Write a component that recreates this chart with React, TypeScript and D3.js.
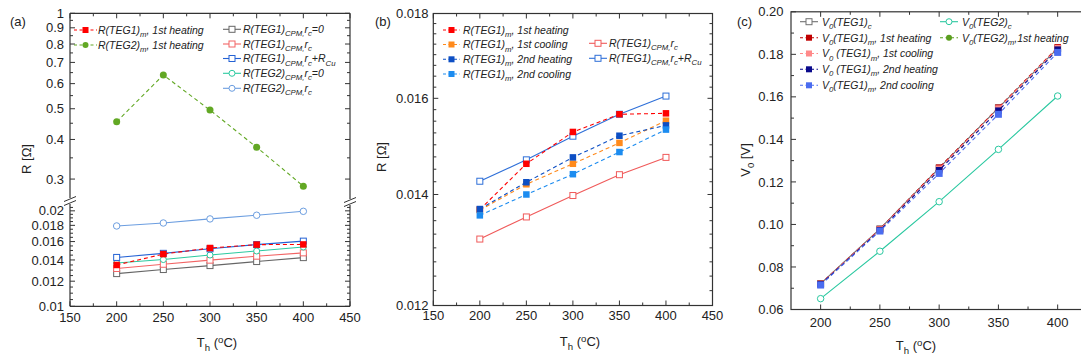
import React from "react";
import * as d3 from "d3";

// ---------- DATA ----------
const temps = [200, 250, 300, 350, 400];
const xTicksAB = [150, 200, 250, 300, 350, 400, 450];
const xTicksC = [200, 250, 300, 350, 400];

// panel (a)
const aTeg1mHeat1 = [0.0135, 0.01461, 0.01527, 0.01565, 0.01567];
const aTeg2mHeat1 = [0.455, 0.639, 0.495, 0.378, 0.285];
const aTeg1CpmRc0 = [0.01268, 0.01306, 0.01344, 0.01384, 0.01424];
const aTeg1CpmRc = [0.01316, 0.01357, 0.01398, 0.01439, 0.01474];
const aTeg1CpmRcCu = [0.01426, 0.01469, 0.01518, 0.01565, 0.01605];
const aTeg2CpmRc0 = [0.0137, 0.01404, 0.01451, 0.01494, 0.01538];
const aTeg2CpmRc = [0.01792, 0.01831, 0.01886, 0.01937, 0.01993];
const aUpperTicks = [0.3, 0.4, 0.5, 0.6, 0.7, 0.8, 0.9, 1];
const aUpperLabels = ["0.3", "0.4", "0.5", "0.6", "0.7", "0.8", "0.9", "1"];
const aLowerTicks = [0.01, 0.012, 0.014, 0.016, 0.018, 0.02];
const aLowerLabels = ["0.01", "0.012", "0.014", "0.016", "0.018", "0.02"];

// panel (b)
const bTeg1mHeat1 = [0.01371, 0.01461, 0.01527, 0.01565, 0.01567];
const bTeg1mCool1 = [0.0137, 0.0142, 0.01461, 0.01504, 0.01551];
const bTeg1mHeat2 = [0.01372, 0.01424, 0.01474, 0.01519, 0.01541];
const bTeg1mCool2 = [0.0136, 0.014, 0.0144, 0.01485, 0.01532];
const bTeg1CpmRc = [0.01316, 0.01357, 0.01398, 0.01439, 0.01474];
const bTeg1CpmRcCu = [0.01426, 0.01469, 0.01518, 0.01565, 0.01605];
const bTicks = [0.012, 0.014, 0.016, 0.018];
const bLabels = ["0.012", "0.014", "0.016", "0.018"];

// panel (c)
const cTeg1c = [0.0722, 0.0979, 0.1265, 0.1548, 0.1828];
const cTeg1mHeat1 = [0.0721, 0.0978, 0.1267, 0.1549, 0.1833];
const cTeg1mCool1 = [0.072, 0.0976, 0.1262, 0.1545, 0.1829];
const cTeg1mHeat2 = [0.0718, 0.0972, 0.1255, 0.1535, 0.1822];
const cTeg1mCool2 = [0.0715, 0.0969, 0.124, 0.1518, 0.1809];
const cTeg2c = [0.0651, 0.0874, 0.1107, 0.1353, 0.1604];
const cTeg2mHeat1: number[] = [];
const cTicks = [0.06, 0.08, 0.1, 0.12, 0.14, 0.16, 0.18, 0.2];
const cLabels = ["0.06", "0.08", "0.10", "0.12", "0.14", "0.16", "0.18", "0.20"];

// ---------- HELPERS ----------
const FONT = "'Liberation Sans', Arial, sans-serif";
const AX = "#333";

type Seg = [string, number];

function Rich({ x, y, segs, size, italic, anchor, rotate }: any) {
  let level = 0;
  const off = size * 0.32;
  const parts = segs.map((s: Seg, i: number) => {
    const [t, lv] = s;
    const dy = (lv - level) * off;
    level = lv;
    const fs = lv === 0 ? size : size * 0.74;
    return (
      <tspan key={i} dy={dy} fontSize={fs}>
        {t}
      </tspan>
    );
  });
  return (
    <text
      x={x}
      y={y}
      fontFamily={FONT}
      fontSize={size}
      fontStyle={italic ? "italic" : "normal"}
      textAnchor={anchor || "start"}
      fill="#222"
      transform={rotate ? `rotate(${rotate},${x},${y})` : undefined}
    >
      {parts}
    </text>
  );
}

function Marker({ cx, cy, shape, color, filled, size }: any) {
  const s = size || 6;
  if (shape === "square")
    return (
      <rect
        x={cx - s / 2}
        y={cy - s / 2}
        width={s}
        height={s}
        fill={filled ? color : "#fff"}
        stroke={color}
        strokeWidth={filled ? 0 : 1}
      />
    );
  return (
    <circle
      cx={cx}
      cy={cy}
      r={s / 2}
      fill={filled ? color : "#fff"}
      stroke={color}
      strokeWidth={filled ? 0 : 1}
    />
  );
}

function Series({ xs, ys, x, y, color, dash, shape, filled, size }: any) {
  const pts = xs.map((v: number, i: number) => [x(v), y(ys[i])]).filter((_: any, i: number) => ys[i] !== undefined);
  const line = d3.line();
  return (
    <g>
      {pts.length > 1 && (
        <path d={line(pts as any) || ""} fill="none" stroke={color} strokeWidth={1.1} strokeDasharray={dash ? "4,3" : undefined} />
      )}
      {pts.map((p: number[], i: number) => (
        <Marker key={i} cx={p[0]} cy={p[1]} shape={shape} color={color} filled={filled} size={size} />
      ))}
    </g>
  );
}

function LegendItem({ x0, x1, y, color, dash, shape, filled, segs, tx, size }: any) {
  return (
    <g>
      <line x1={x0} x2={x1} y1={y} y2={y} stroke={color} strokeWidth={1.1} strokeDasharray={dash ? "3,2.5" : undefined} />
      <Marker cx={(x0 + x1) / 2} cy={y} shape={shape} color={color} filled={filled} size={size || 6} />
      <Rich x={tx} y={y + 3.8} segs={segs} size={10.5} italic />
    </g>
  );
}

function XAxisBox({ x, ticks, minor, top, bottom, labelY, labels }: any) {
  return (
    <g>
      {ticks.map((t: number, i: number) => (
        <g key={"M" + i}>
          <line x1={x(t)} x2={x(t)} y1={bottom} y2={bottom - 5} stroke={AX} strokeWidth={1} />
          <line x1={x(t)} x2={x(t)} y1={top} y2={top + 5} stroke={AX} strokeWidth={1} />
          <text x={x(t)} y={labelY} fontFamily={FONT} fontSize={13} textAnchor="middle" fill="#222">
            {labels ? labels[i] : t}
          </text>
        </g>
      ))}
      {minor.map((t: number, i: number) => (
        <g key={"m" + i}>
          <line x1={x(t)} x2={x(t)} y1={bottom} y2={bottom - 3} stroke={AX} strokeWidth={1} />
          <line x1={x(t)} x2={x(t)} y1={top} y2={top + 3} stroke={AX} strokeWidth={1} />
        </g>
      ))}
    </g>
  );
}

function YTicks({ y, ticks, labels, minor, left, right, labelX }: any) {
  return (
    <g>
      {ticks.map((t: number, i: number) => (
        <g key={"M" + i}>
          <line x1={left} x2={left + 5} y1={y(t)} y2={y(t)} stroke={AX} strokeWidth={1} />
          <line x1={right} x2={right - 5} y1={y(t)} y2={y(t)} stroke={AX} strokeWidth={1} />
          <text x={labelX} y={y(t) + 4.6} fontFamily={FONT} fontSize={13} textAnchor="end" fill="#222">
            {labels[i]}
          </text>
        </g>
      ))}
      {minor.map((t: number, i: number) => (
        <g key={"m" + i}>
          <line x1={left} x2={left + 3} y1={y(t)} y2={y(t)} stroke={AX} strokeWidth={1} />
          <line x1={right} x2={right - 3} y1={y(t)} y2={y(t)} stroke={AX} strokeWidth={1} />
        </g>
      ))}
    </g>
  );
}

const near = (a: number[], v: number) => a.some((t) => Math.abs(t - v) < 1e-9);
const thLabel: Seg[] = [["T", 0], ["h", 1], [" (", 0], ["o", -1], ["C)", 0]];

// ---------- PANEL A ----------
function PanelA() {
  const L = 70, R = 350, T = 13.3, B = 306.3;
  const x = d3.scaleLinear().domain([150, 450]).range([L, R]);
  const upTop = 13.3, upBot = 196;
  const yUp = d3.scaleLog().domain([0.2653, 1]).range([upBot, upTop]);
  const loTop = 206.1;
  const yLo = d3.scaleLog().domain([0.01, 0.0207]).range([B, loTop]);
  const xMinor = d3.range(175, 450, 50);
  const upMinor = d3.range(0.3, 1.0001, 0.05).filter((v) => !near(aUpperTicks, +v.toFixed(4)));
  const loMinor = d3.range(0.0105, 0.0206, 0.0005).filter((v) => !near(aLowerTicks, +v.toFixed(5)));
  const low = (arr: number[], color: string, shape: string, filled: boolean, dash = false, size = 6) => (
    <Series xs={temps} ys={arr} x={x} y={yLo} color={color} shape={shape} filled={filled} dash={dash} size={size} />
  );
  const brk = (bx: number, by: number) => (
    <g>
      <rect x={bx - 3} y={by - 3} width={6} height={6} fill="#fff" />
      <line x1={bx - 6} y1={by + 0.5} x2={bx + 6} y2={by - 4.5} stroke={AX} strokeWidth={1} />
      <line x1={bx - 6} y1={by + 4.5} x2={bx + 6} y2={by - 0.5} stroke={AX} strokeWidth={1} />
    </g>
  );
  return (
    <g>
      <text x={10} y={26} fontFamily={FONT} fontSize={13} fill="#222">(a)</text>
      {/* series */}
      {low(aTeg1CpmRc0, "#666666", "square", false)}
      {low(aTeg1CpmRc, "#f26464", "square", false)}
      {low(aTeg2CpmRc0, "#2ccaa0", "circle", false)}
      {low(aTeg1CpmRcCu, "#2462d4", "square", false)}
      {low(aTeg2CpmRc, "#6c9ee0", "circle", false, false, 6.5)}
      {low(aTeg1mHeat1, "#ff0000", "square", true, true, 6.5)}
      <Series xs={temps} ys={aTeg2mHeat1} x={x} y={yUp} color="#62a824" shape="circle" filled dash size={7} />
      {/* frame */}
      <line x1={L} x2={R} y1={T} y2={T} stroke={AX} strokeWidth={1.2} />
      <line x1={L} x2={R} y1={B} y2={B} stroke={AX} strokeWidth={1.2} />
      <line x1={L} x2={L} y1={T} y2={B} stroke={AX} strokeWidth={1.2} />
      <line x1={R} x2={R} y1={T} y2={B} stroke={AX} strokeWidth={1.2} />
      <XAxisBox x={x} ticks={xTicksAB} minor={xMinor} top={T} bottom={B} labelY={322} />
      <YTicks y={yUp} ticks={aUpperTicks} labels={aUpperLabels} minor={upMinor} left={L} right={R} labelX={64} />
      <YTicks y={yLo} ticks={aLowerTicks} labels={aLowerLabels} minor={loMinor} left={L} right={R} labelX={64} />
      {brk(L, 201)}
      {brk(R, 202)}
      {/* legend */}
      <LegendItem x0={74} x1={97} y={30} color="#ff0000" dash shape="square" filled tx={98}
        segs={[["R(TEG1)", 0], ["m", 1], [", 1st heating", 0]]} />
      <LegendItem x0={74} x1={97} y={45} color="#62a824" dash shape="circle" filled tx={98}
        segs={[["R(TEG2)", 0], ["m", 1], [", 1st heating", 0]]} />
      <LegendItem x0={223} x1={241} y={29.3} color="#666666" shape="square" tx={243}
        segs={[["R(TEG1)", 0], ["CPM,", 1], ["r", 0], ["c", 1], ["=0", 0]]} />
      <LegendItem x0={223} x1={241} y={44} color="#f26464" shape="square" tx={243}
        segs={[["R(TEG1)", 0], ["CPM,", 1], ["r", 0], ["c", 1]]} />
      <LegendItem x0={223} x1={241} y={58.5} color="#2462d4" shape="square" tx={243}
        segs={[["R(TEG1)", 0], ["CPM,", 1], ["r", 0], ["c", 1], ["+R", 0], ["Cu", 1]]} />
      <LegendItem x0={223} x1={241} y={73.3} color="#2ccaa0" shape="circle" tx={243}
        segs={[["R(TEG2)", 0], ["CPM,", 1], ["r", 0], ["c", 1], ["=0", 0]]} />
      <LegendItem x0={223} x1={241} y={88.3} color="#6c9ee0" shape="circle" tx={243}
        segs={[["R(TEG2)", 0], ["CPM,", 1], ["r", 0], ["c", 1]]} />
      {/* axis titles */}
      <Rich x={31} y={159} segs={[["R [Ω]", 0]]} size={13} anchor="middle" rotate={-90} />
      <Rich x={217} y={347} segs={thLabel} size={13} anchor="middle" />
    </g>
  );
}

// ---------- PANEL B ----------
function PanelB() {
  const L = 433.3, R = 712.5, T = 13.5, B = 305.5;
  const x = d3.scaleLinear().domain([150, 450]).range([L, R]);
  const y = d3.scaleLog().domain([0.012, 0.018]).range([B, T]);
  const xMinor = d3.range(175, 450, 50);
  const yMinor = d3.range(0.01225, 0.018, 0.00025).filter((v) => !near(bTicks, +v.toFixed(5)));
  const s = (arr: number[], color: string, filled: boolean, dash: boolean) => (
    <Series xs={temps} ys={arr} x={x} y={y} color={color} shape="square" filled={filled} dash={dash} size={filled ? 6.5 : 6} />
  );
  return (
    <g>
      <text x={375} y={26} fontFamily={FONT} fontSize={13} fill="#222">(b)</text>
      {s(bTeg1CpmRc, "#f05a5a", false, false)}
      {s(bTeg1CpmRcCu, "#2e6fd8", false, false)}
      {s(bTeg1mHeat1, "#ff0000", true, true)}
      {s(bTeg1mCool1, "#ff8a1c", true, true)}
      {s(bTeg1mHeat2, "#0d4fc4", true, true)}
      {s(bTeg1mCool2, "#1c8cf0", true, true)}
      <rect x={L} y={T} width={R - L} height={B - T} fill="none" stroke={AX} strokeWidth={1.2} />
      <XAxisBox x={x} ticks={xTicksAB} minor={xMinor} top={T} bottom={B} labelY={320} />
      <YTicks y={y} ticks={bTicks} labels={bLabels} minor={yMinor} left={L} right={R} labelX={428.5} />
      <LegendItem x0={443} x1={460} y={30} color="#ff0000" dash shape="square" filled tx={463}
        segs={[["R(TEG1)", 0], ["m", 1], [", 1st heating", 0]]} />
      <LegendItem x0={443} x1={460} y={44.5} color="#ff8a1c" dash shape="square" filled tx={463}
        segs={[["R(TEG1)", 0], ["m", 1], [", 1st cooling", 0]]} />
      <LegendItem x0={443} x1={460} y={59.3} color="#0d4fc4" dash shape="square" filled tx={463}
        segs={[["R(TEG1)", 0], ["m", 1], [", 2nd heating", 0]]} />
      <LegendItem x0={443} x1={460} y={74} color="#1c8cf0" dash shape="square" filled tx={463}
        segs={[["R(TEG1)", 0], ["m", 1], [", 2nd cooling", 0]]} />
      <LegendItem x0={589} x1={607} y={43.3} color="#f05a5a" shape="square" tx={609}
        segs={[["R(TEG1)", 0], ["CPM,", 1], ["r", 0], ["c", 1]]} />
      <LegendItem x0={589} x1={607} y={58.3} color="#2e6fd8" shape="square" tx={609}
        segs={[["R(TEG1)", 0], ["CPM,", 1], ["r", 0], ["c", 1], ["+R", 0], ["Cu", 1]]} />
      <Rich x={386} y={157} segs={[["R [Ω]", 0]]} size={13} anchor="middle" rotate={-90} />
      <Rich x={580} y={346} segs={thLabel} size={13} anchor="middle" />
    </g>
  );
}

// ---------- PANEL C ----------
function PanelC() {
  const L = 791, R = 1087.3, T = 11.8, B = 309.5;
  const x = d3.scaleLinear().domain([175, 425]).range([L, R]);
  const y = d3.scaleLinear().domain([0.06, 0.2]).range([B, T]);
  const xMinor = d3.range(225, 425, 50);
  const yMinor = d3.range(0.07, 0.2, 0.02);
  const s = (arr: number[], color: string, shape: string, filled: boolean, dash: boolean, size = 6) => (
    <Series xs={temps} ys={arr} x={x} y={y} color={color} shape={shape} filled={filled} dash={dash} size={size} />
  );
  return (
    <g>
      <text x={737} y={26} fontFamily={FONT} fontSize={13} fill="#222">(c)</text>
      {s(cTeg2c, "#2ac8a0", "circle", false, false, 6.5)}
      {s(cTeg1c, "#707070", "square", false, false)}
      {s(cTeg1mHeat1, "#c00000", "square", true, true, 6.5)}
      {s(cTeg1mCool1, "#ff8a8a", "square", true, true, 6.5)}
      {s(cTeg1mHeat2, "#0a0a8c", "square", true, true, 6.5)}
      {s(cTeg1mCool2, "#4a6cf0", "square", true, true, 7)}
      {s(cTeg2mHeat1, "#5a9e1e", "circle", true, true, 6)}
      <rect x={L} y={T} width={R - L} height={B - T} fill="none" stroke={AX} strokeWidth={1.2} />
      <XAxisBox x={x} ticks={xTicksC} minor={xMinor} top={T} bottom={B} labelY={327} />
      <YTicks y={y} ticks={cTicks} labels={cLabels} minor={yMinor} left={L} right={R} labelX={783.5} />
      <LegendItem x0={800} x1={818} y={21.7} color="#707070" shape="square" tx={822}
        segs={[["V", 0], ["0", 1], ["(TEG1)", 0], ["c", 1]]} />
      <LegendItem x0={800} x1={818} y={37.7} color="#c00000" dash shape="square" filled tx={822}
        segs={[["V", 0], ["0", 1], ["(TEG1)", 0], ["m", 1], [", 1st heating", 0]]} />
      <LegendItem x0={800} x1={818} y={53.5} color="#ff8a8a" dash shape="square" filled tx={822}
        segs={[["V", 0], ["0", 1], [" (TEG1)", 0], ["m", 1], [", 1st cooling", 0]]} />
      <LegendItem x0={800} x1={818} y={69.3} color="#0a0a8c" dash shape="square" filled tx={822}
        segs={[["V", 0], ["0", 1], [" (TEG1)", 0], ["m", 1], [", 2nd heating", 0]]} />
      <LegendItem x0={800} x1={818} y={85.3} color="#4a6cf0" dash shape="square" filled tx={822}
        segs={[["V", 0], ["0", 1], ["(TEG1)", 0], ["m", 1], [", 2nd cooling", 0]]} />
      <LegendItem x0={940} x1={958} y={21.7} color="#2ac8a0" shape="circle" tx={962}
        segs={[["V", 0], ["0", 1], ["(TEG2)", 0], ["c", 1]]} />
      <LegendItem x0={940} x1={958} y={37.7} color="#5a9e1e" dash shape="circle" filled tx={962}
        segs={[["V", 0], ["0", 1], ["(TEG2)", 0], ["m", 1], [",1st heating", 0]]} />
      <Rich x={750} y={160} segs={[["V", 0], ["0", 1], [" [V]", 0]]} size={13} anchor="middle" rotate={-90} />
      <Rich x={916} y={350} segs={thLabel} size={13} anchor="middle" />
    </g>
  );
}

export default function App() {
  return (
    <div>
      <style>{`body{margin:0;background:#fff}`}</style>
      <svg width={1081} height={361} style={{ display: "block", background: "#fff" }}>
        <PanelA />
        <PanelB />
        <PanelC />
      </svg>
    </div>
  );
}
